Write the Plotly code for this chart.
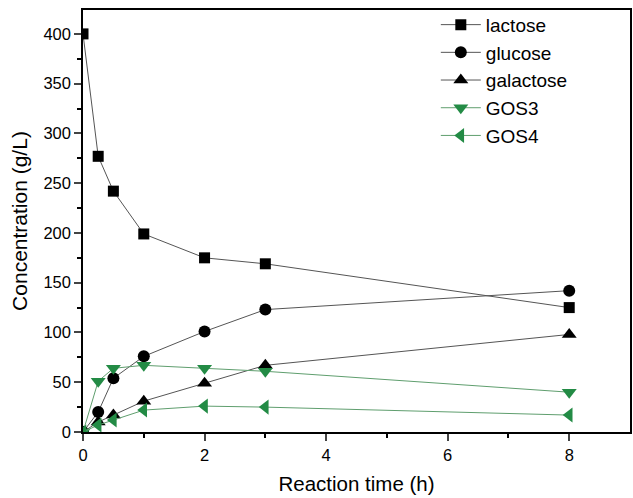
import plotly.graph_objects as go

time_h = [0, 0.25, 0.5, 1, 2, 3, 8]
lactose = [400, 277, 242, 199, 175, 169, 125]
glucose = [0, 20, 54, 76, 101, 123, 142]
galactose = [0, 10, 17, 31, 49, 67, 98]
gos3 = [0, 51, 64, 67, 64, 61, 40]
gos4 = [0, 7, 12, 22, 26, 25, 17]

series = [
    ("lactose", lactose, "square", "black", "#555555", 11),
    ("glucose", glucose, "circle", "black", "#555555", 12),
    ("galactose", galactose, "triangle-up", "black", "#555555", 13),
    ("GOS3", gos3, "triangle-down", "#238b45", "#5f9e6e", 13),
    ("GOS4", gos4, "triangle-left", "#238b45", "#5f9e6e", 13),
]

fig = go.Figure()
for name, vals, sym, mcol, lcol, msize in series:
    fig.add_trace(go.Scatter(
        x=time_h, y=vals, name=name, mode="lines+markers",
        line=dict(color=lcol, width=1),
        marker=dict(symbol=sym, color=mcol, size=msize, line=dict(width=0)),
    ))

fig.update_layout(
    width=633, height=498,
    margin=dict(l=83, r=1, t=10, b=66),
    plot_bgcolor="white", paper_bgcolor="white",
    font=dict(family="Liberation Sans, Arial, sans-serif", color="black", size=16),
    legend=dict(x=0.645, y=1.01, xanchor="left", yanchor="top",
                font=dict(size=19), bgcolor="rgba(0,0,0,0)", tracegroupgap=0,
                itemwidth=40),
    showlegend=True,
)
fig.update_xaxes(
    range=[0, 9.0], tickvals=[0, 2, 4, 6, 8], ticks="outside", ticklen=7, tickwidth=1.5,
    showline=True, linecolor="black", linewidth=1.5, mirror=True, showgrid=False, zeroline=False,
    minor=dict(tickvals=[1, 3, 5, 7], ticks="outside", ticklen=4, tickwidth=1.5, tickcolor="black"),
    title=dict(text="Reaction time (h)", font=dict(size=20.5), standoff=14),
    tickfont=dict(size=16.5),
)
fig.update_yaxes(
    range=[0, 424], tickvals=list(range(0, 401, 50)), ticks="outside", ticklen=7, tickwidth=1.5,
    showline=True, linecolor="black", linewidth=1.5, mirror=True, showgrid=False, zeroline=False,
    minor=dict(tickvals=list(range(25, 401, 50)), ticks="outside", ticklen=4, tickwidth=1.5, tickcolor="black"),
    title=dict(text="Concentration (g/L)", font=dict(size=21), standoff=10),
    tickfont=dict(size=16.5),
)
fig.write_html("out.html")
